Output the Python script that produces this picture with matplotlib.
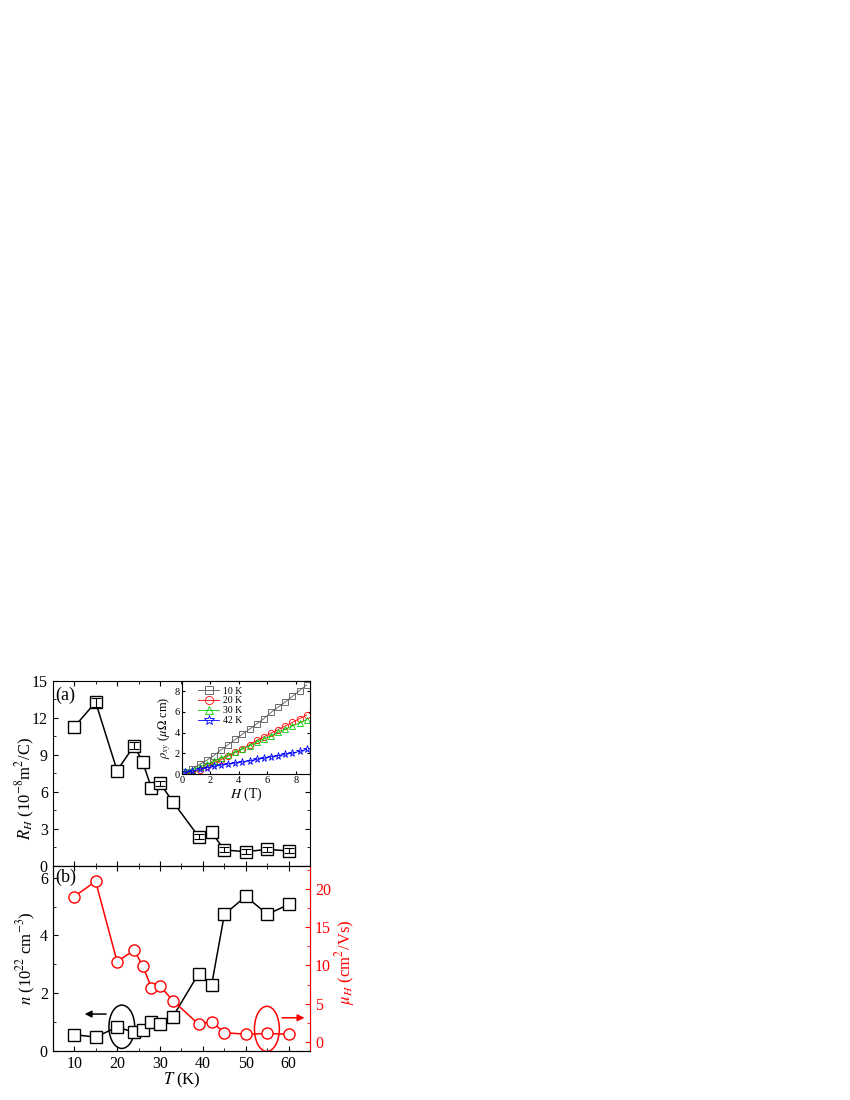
import matplotlib.pyplot as plt
from matplotlib.patches import Ellipse

plt.rcParams['font.family'] = ['Liberation Serif', 'DejaVu Serif']
plt.rcParams['mathtext.fontset'] = 'stix'
plt.rcParams['xtick.direction'] = 'in'
plt.rcParams['ytick.direction'] = 'in'

# temperature points (K)
T = [10, 15, 20, 24, 26, 28, 30, 33, 39, 42, 45, 50, 55, 60]
# Hall coefficient (10^-8 m^2/C) and its error (0 = no visible bar)
R_H = [11.25, 13.26, 7.73, 9.75, 8.38, 6.32, 6.70, 5.20, 2.38, 2.73, 1.30, 1.16, 1.35, 1.22]
R_err = [0, 0.35, 0, 0.25, 0, 0, 0.2, 0, 0.2, 0, 0.2, 0.2, 0.2, 0.2]
# carrier density (10^22 cm^-3) and Hall mobility (cm^2/Vs)
n = [0.57, 0.48, 0.83, 0.65, 0.74, 0.99, 0.92, 1.19, 2.68, 2.27, 4.73, 5.35, 4.73, 5.07]
mu = [19.0, 21.0, 10.5, 12.0, 9.9, 7.1, 7.3, 5.4, 2.3, 2.65, 1.2, 1.0, 1.1, 1.0]

# inset: rho_xy vs H
H = [0.25, 0.75, 1.25, 1.75, 2.25, 2.75, 3.25, 3.75, 4.25, 4.75, 5.25, 5.75,
     6.25, 6.75, 7.25, 7.75, 8.25, 8.75]
rho_10K = [0.2, 0.5, 0.95, 1.35, 1.8, 2.35, 2.85, 3.35, 3.85, 4.35, 4.85, 5.35,
           5.95, 6.45, 6.95, 7.5, 8.05, 8.6]
rho_20K = [0.05, 0.15, 0.45, 0.75, 1.1, 1.4, 1.75, 2.1, 2.45, 2.85, 3.25, 3.6,
           3.95, 4.3, 4.65, 5.0, 5.35, 5.7]
rho_30K = [0.3, 0.45, 0.7, 0.95, 1.25, 1.55, 1.85, 2.15, 2.45, 2.75, 3.1, 3.4,
           3.7, 4.05, 4.35, 4.65, 4.95, 5.25]
rho_42K = [0.2, 0.3, 0.5, 0.65, 0.75, 0.9, 1.0, 1.1, 1.2, 1.3, 1.45, 1.55,
           1.7, 1.8, 1.95, 2.05, 2.2, 2.4]

fig = plt.figure(figsize=(8.5, 11), dpi=100)
ax_a = fig.add_axes([0.062, 0.2127, 0.303, 0.1685])
ax_b = fig.add_axes([0.062, 0.0445, 0.303, 0.1682])
ax_in = fig.add_axes([0.2138, 0.2961, 0.1512, 0.0851])

# panel (a)
ax_a.plot(T, R_H, '-s', color='black', mfc='white', mec='black', ms=8, lw=1.1, mew=1.0)
eb = [(t, r, e) for t, r, e in zip(T, R_H, R_err) if e > 0]
ax_a.errorbar([p[0] for p in eb], [p[1] for p in eb], yerr=[p[2] for p in eb], fmt='none',
              ecolor='black', capsize=3.5, elinewidth=0.8, capthick=0.8, zorder=3)
ax_a.set_xlim(5, 65)
ax_a.set_ylim(0, 15)
ax_a.set_yticks([0, 3, 6, 9, 12, 15])
ax_a.set_yticks([1.5, 4.5, 7.5, 10.5, 13.5], minor=True)
ax_a.set_xticks([10, 20, 30, 40, 50, 60])
ax_a.set_xticks([15, 25, 35, 45, 55], minor=True)
ax_a.tick_params(which='both', top=True, right=True, labelbottom=False, labelsize=11.5)
ax_a.tick_params(which='minor', length=2)
ax_a.set_ylabel(r'$R_H$ (10$^{-8}$m$^2$/C)', fontsize=12)
ax_a.yaxis.set_label_coords(-0.062, 0.42)
ax_a.text(0.01, 0.97, '(a)', transform=ax_a.transAxes, fontsize=13, va='top', ha='left')

# inset
ax_in.plot(H, rho_10K, '-s', color='#555555', mfc='none', ms=4.2, lw=0.6, mew=0.6, label='10 K')
ax_in.plot(H, rho_20K, '-o', color='red', mfc='none', ms=4.5, lw=0.6, mew=0.6, label='20 K')
ax_in.plot(H, rho_30K, '-^', color='#00cc00', mfc='none', ms=4.5, lw=0.6, mew=0.6, label='30 K')
ax_in.plot(H, rho_42K, '-*', color='blue', mfc='none', ms=5.5, lw=0.6, mew=0.6, label='42 K')
ax_in.set_xlim(0, 9)
ax_in.set_ylim(0, 9)
ax_in.set_xticks([0, 2, 4, 6, 8])
ax_in.set_yticks([0, 2, 4, 6, 8])
ax_in.tick_params(which='both', top=True, right=True, labelsize=7.5, length=2.5, pad=1.5)
ax_in.set_xlabel(r'$H$ (T)', fontsize=10, labelpad=0)
ax_in.set_ylabel(r'$\rho_{xy}$ ($\mu\Omega$ cm)', fontsize=9, labelpad=1)
ax_in.legend(loc='upper left', fontsize=7, frameon=False, handlelength=2.2,
             borderaxespad=0.2, labelspacing=0.1, handletextpad=0.4, markerscale=1.3,
             bbox_to_anchor=(0.08, 1.0))

# panel (b)
ax_b.plot(T, n, '-s', color='black', mfc='white', mec='black', ms=8, lw=1.1, mew=1.0)
ax_b.set_xlim(5, 65)
ax_b.set_ylim(0, 6.4)
ax_b.set_yticks([0, 2, 4, 6])
ax_b.set_yticks([1, 3, 5], minor=True)
ax_b.set_xticks([10, 20, 30, 40, 50, 60])
ax_b.set_xticks([15, 25, 35, 45, 55], minor=True)
ax_b.tick_params(which='both', top=True, labelsize=11.5)
ax_b.tick_params(which='minor', length=2)
ax_b.set_xlabel(r'$T$ (K)', fontsize=12, labelpad=-1)
ax_b.set_ylabel(r'$n$ (10$^{22}$ cm$^{-3}$)', fontsize=12)
ax_b.yaxis.set_label_coords(-0.057, 0.5)
ax_b.text(0.01, 0.985, '(b)', transform=ax_b.transAxes, fontsize=13, va='top', ha='left')

ax_r = ax_b.twinx()
ax_r.plot(T, mu, '-o', color='red', mfc='white', mec='red', ms=8, lw=1.1, mew=1.0)
ax_r.set_ylim(-1.2, 23)
ax_r.set_yticks([0, 5, 10, 15, 20])
ax_r.set_yticks([2.5, 7.5, 12.5, 17.5, 22.5], minor=True)
ax_r.tick_params(axis='y', which='both', colors='red', labelsize=11.5, direction='in')
ax_r.tick_params(axis='y', which='minor', length=2)
ax_r.spines['right'].set_color('red')
ax_r.set_ylabel(r'$\mu_H$ (cm$^2$/Vs)', color='red', fontsize=12)
ax_r.yaxis.set_label_coords(1.089, 0.48)

# ellipses and arrows marking axes
ax_b.add_patch(Ellipse((21.1, 0.84), 6.0, 1.5, fill=False, ec='black', lw=1.1))
ax_b.annotate('', xy=(11.8, 1.28), xytext=(18.1, 1.28),
              arrowprops=dict(arrowstyle='-|>', color='black', lw=1.1, mutation_scale=10))
ax_r.add_patch(Ellipse((54.9, 1.7), 5.8, 5.9, fill=False, ec='red', lw=1.1))
ax_r.annotate('', xy=(64.3, 3.15), xytext=(57.8, 3.15),
              arrowprops=dict(arrowstyle='-|>', color='red', lw=1.1, mutation_scale=10))

fig.savefig('out.png', dpi=100)
